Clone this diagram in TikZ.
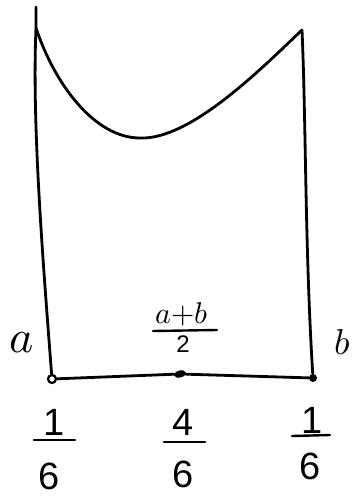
\documentclass[tikz,border=0pt]{standalone}
\usepackage{unicode-math}
\setmathfont{Latin Modern Math}
\setmainfont{Liberation Sans}
\usetikzlibrary{shapes.geometric}
\begin{document}
\begin{tikzpicture}[x=1pt,y=-1pt,
  pen/.style={line width=2.8pt,line cap=round,line join=round},
  num/.style={inner sep=0pt,font=\fontsize{38}{42}\selectfont},
  bar/.style={line width=2.4pt,line cap=round}]
\useasboundingbox (0,0) rectangle (354,499);
% dots
\node[circle,draw,line width=2.2pt,fill=white,inner sep=0pt,minimum size=8pt] (A) at (52,379) {};
\node[ellipse,fill=black,inner sep=0pt,minimum width=12pt,minimum height=7pt,rotate=15] (M) at (180,374) {};
\node[circle,fill=black,inner sep=0pt,minimum size=8pt] (B) at (313,378) {};
\coordinate (TL) at (36,28);
\coordinate (TT) at (36,7);
\coordinate (TR) at (302,30);
\coordinate (Bot) at (140,138);
% sides
\draw[pen] (A) .. controls (42,250) and (32,120) .. (TL) -- (TT);
\draw[pen] (B) .. controls (305,250) and (306,120) .. (TR);
% top curve
\draw[pen] (TL) .. controls (55,85) and (95,138) .. (Bot) .. controls (190,140) and (260,70) .. (TR);
% baseline
\draw[pen] (A) -- (M) -- (B);
% labels
\node[inner sep=0pt,font=\fontsize{46}{50}\selectfont] (la) at (22,343) {$a$};
\node[inner sep=0pt,font=\fontsize{36}{40}\selectfont] (lb) at (342,342) {$b$};
\node[inner sep=0pt,font=\fontsize{30}{34}\selectfont] (ab) at (182,314) {$a{+}b$};
\node[inner sep=0pt,font=\fontsize{24}{28}\selectfont] (two) at (183,344) {2};
\coordinate (abL) at (153,331); \coordinate (abR) at (217,330);
\draw[bar] (abL) -- (abR);
% bottom fractions
\node[num] (n1) at (54,422) {1};
\node[num] (d1) at (49,476) {6};
\coordinate (b1L) at (34,440); \coordinate (b1R) at (75,440);
\draw[bar] (b1L) -- (b1R);
\node[num] (n2) at (183,422) {4};
\node[num] (d2) at (183,474) {6};
\coordinate (b2L) at (164,442); \coordinate (b2R) at (205,442);
\draw[bar] (b2L) -- (b2R);
\node[num] (n3) at (312,420) {1};
\node[num] (d3) at (310,466) {6};
\coordinate (b3L) at (292,436); \coordinate (b3R) at (330,435);
\draw[bar] (b3L) -- (b3R);
\end{tikzpicture}
\end{document}
